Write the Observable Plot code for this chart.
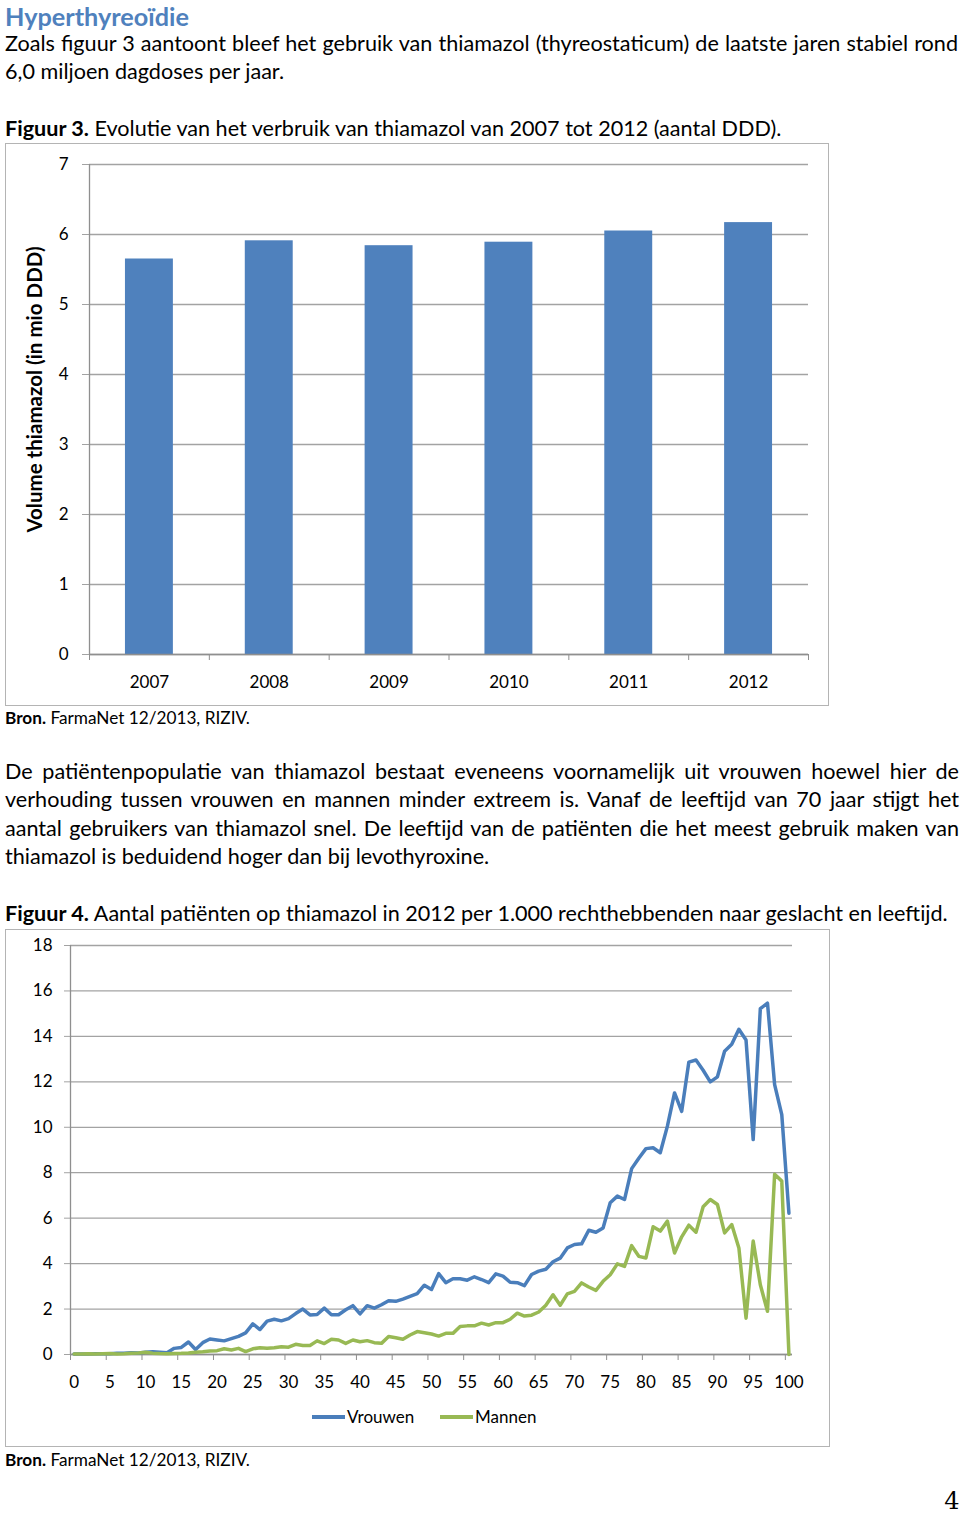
<!DOCTYPE html>
<html>
<head>
<meta charset="utf-8">
<script src="https://cdn.jsdelivr.net/npm/d3@7"></script>
<script src="https://cdn.jsdelivr.net/npm/@observablehq/plot@0.6"></script>
<style>
  body { margin: 0; background: #fff; }
  #page { position: relative; width: 960px; height: 1515px; overflow: hidden; background: #fff; }
  #overlay { position: absolute; left: 0; top: 0; pointer-events: none; }
  .chart { position: absolute; }
  .box { position: absolute; border: 1px solid #b4b4b4; box-sizing: border-box; pointer-events: none; }
  text { white-space: pre; }
</style>
</head>
<body>
<div id="page">
  <div class="chart" id="bar" style="left:5px;top:143px;"></div>
  <div class="box" style="left:5px;top:143px;width:824px;height:563px;"></div>
  <div class="chart" id="line" style="left:5px;top:929px;"></div>
  <div class="box" style="left:5px;top:929px;width:825px;height:518px;"></div>
  <svg id="overlay" width="960" height="1515"></svg>
</div>
<script>
// ---------- Data: Figuur 3 ----------
const years = ["2007", "2008", "2009", "2010", "2011", "2012"];
const volumes = [5.65, 5.91, 5.84, 5.89, 6.05, 6.17];
const barYTicks = [0, 1, 2, 3, 4, 5, 6, 7];

// ---------- Data: Figuur 4 ----------
const ages = [0,1,2,3,4,5,6,7,8,9,10,11,12,13,14,15,16,17,18,19,20,
  21,22,23,24,25,26,27,28,29,30,31,32,33,34,35,36,37,38,39,40,
  41,42,43,44,45,46,47,48,49,50,51,52,53,54,55,56,57,58,59,60,
  61,62,63,64,65,66,67,68,69,70,71,72,73,74,75,76,77,78,79,80,
  81,82,83,84,85,86,87,88,89,90,91,92,93,94,95,96,97,98,99,100];
const vrouwen = [0.02,0.02,0.02,0.03,0.03,0.03,0.05,0.06,0.08,0.07,0.10,
  0.12,0.10,0.08,0.27,0.31,0.55,0.22,0.52,0.68,0.64,
  0.60,0.70,0.80,0.95,1.35,1.10,1.47,1.55,1.48,1.58,
  1.80,2.00,1.74,1.76,2.04,1.75,1.75,1.97,2.15,1.79,
  2.15,2.04,2.19,2.37,2.34,2.44,2.56,2.68,3.05,2.86,
  3.56,3.16,3.33,3.33,3.27,3.42,3.30,3.16,3.55,3.45,
  3.18,3.16,3.03,3.52,3.67,3.75,4.08,4.24,4.69,4.84,
  4.87,5.47,5.38,5.57,6.68,6.97,6.82,8.18,8.64,9.06,
  9.10,8.88,10.05,11.51,10.70,12.87,12.96,12.51,12.00,12.22,
  13.35,13.65,14.31,13.84,9.46,15.22,15.46,11.88,10.56,6.22];
const mannen = [0.02,0.02,0.03,0.02,0.03,0.04,0.02,0.03,0.05,0.07,0.10,
  0.06,0.04,0.03,0.04,0.05,0.07,0.10,0.12,0.15,0.17,
  0.25,0.20,0.27,0.13,0.25,0.30,0.28,0.30,0.34,0.32,
  0.45,0.40,0.40,0.60,0.48,0.67,0.64,0.49,0.64,0.56,
  0.61,0.52,0.49,0.79,0.74,0.67,0.86,1.01,0.96,0.90,
  0.81,0.93,0.93,1.23,1.26,1.26,1.38,1.30,1.40,1.40,
  1.55,1.82,1.69,1.73,1.87,2.17,2.63,2.17,2.67,2.78,
  3.15,2.97,2.82,3.22,3.51,3.99,3.88,4.79,4.32,4.25,
  5.62,5.43,5.87,4.47,5.18,5.69,5.38,6.50,6.82,6.60,
  5.35,5.72,4.69,1.60,4.99,3.07,1.90,7.93,7.63,0.00];
const seriesNames = ["Vrouwen", "Mannen"];
const seriesColors = ["#4A7EBB", "#98B954"];
const lineYTicks = [0, 2, 4, 6, 8, 10, 12, 14, 16, 18];
const ageLabelTicks = [0,5,10,15,20,25,30,35,40,45,50,55,60,65,70,75,80,85,90,95,100];

const FONT = "Lato, 'Open Sans', sans-serif";
const GRID = "#a3a3a3";
const AXIS = "#8f8f8f";

// ---------- Figuur 3: bar chart ----------
const barData = years.map((year, i) => ({year, i, value: volumes[i]}));
const barChart = Plot.plot({
  width: 824, height: 562,
  marginLeft: 84, marginRight: 21, marginTop: 21, marginBottom: 51,
  style: {background: "transparent", fontFamily: FONT, fontSize: "17px", color: "#000"},
  x: {domain: [-0.5, years.length - 0.5], axis: null},
  y: {domain: [0, 7], axis: null},
  marks: [
    Plot.gridY(barYTicks, {stroke: GRID, strokeOpacity: 1, strokeWidth: 1.3}),
    Plot.axisY(barYTicks, {tickSize: 7, tickPadding: 14, stroke: GRID, fill: "#000", fontSize: 17, tickFormat: d => String(d), label: null}),
    Plot.rectY(barData, {x1: d => d.i - 0.2, x2: d => d.i + 0.2, y: "value", fill: "#4F81BD"}),
    Plot.ruleY([0], {stroke: AXIS, strokeWidth: 1.3}),
    Plot.ruleX([-0.5], {stroke: AXIS, strokeWidth: 1.3}),
    Plot.axisX(d3.range(-0.5, years.length, 1), {tickSize: 6, stroke: AXIS, tickFormat: () => "", label: null}),
    Plot.axisX(barData.map(d => d.i), {tickSize: 0, tickPadding: 21, tickFormat: i => years[i], fill: "#000", fontSize: 17, label: null}),
    Plot.text(["Volume thiamazol (in mio DDD)"], {frameAnchor: "left", textAnchor: "middle", lineAnchor: "middle", rotate: -90, dx: -54, dy: -20, fontWeight: "bold", fontSize: 20.5, fill: "#000"})
  ]
});
document.getElementById("bar").appendChild(barChart);

// ---------- Figuur 4: line chart ----------
const lineData = [];
ages.forEach((age, i) => lineData.push({age, value: vrouwen[i], sex: "Vrouwen"}));
ages.forEach((age, i) => lineData.push({age, value: mannen[i], sex: "Mannen"}));
const lineChart = Plot.plot({
  width: 824, height: 517,
  marginLeft: 65, marginRight: 37, marginTop: 16, marginBottom: 92,
  style: {background: "transparent", fontFamily: FONT, fontSize: "17px", color: "#000"},
  x: {domain: [-0.5, 100.5], axis: null},
  y: {domain: [0, 18], axis: null},
  color: {domain: seriesNames, range: seriesColors},
  marks: [
    Plot.gridY(lineYTicks, {stroke: GRID, strokeOpacity: 1, strokeWidth: 1.3}),
    Plot.axisY(lineYTicks, {tickSize: 6, tickPadding: 12, stroke: GRID, fill: "#000", fontSize: 17, tickFormat: d => String(d), label: null}),
    Plot.ruleY([0], {stroke: AXIS, strokeWidth: 1.3}),
    Plot.ruleX([-0.5], {stroke: AXIS, strokeWidth: 1.3}),
    Plot.axisX(d3.range(-0.5, 100, 5), {tickSize: 6, stroke: AXIS, tickFormat: () => "", label: null}),
    Plot.axisX(ageLabelTicks, {tickSize: 0, tickPadding: 21, fill: "#000", fontSize: 17, tickFormat: d => String(d), label: null}),
    Plot.lineY(lineData, {x: "age", y: "value", z: "sex", stroke: "sex", strokeWidth: 3.5, strokeLinejoin: "round"})
  ]
});
document.getElementById("line").appendChild(lineChart);

// ---------- Document text (overlay) ----------
const NS = "http://www.w3.org/2000/svg";
const overlay = document.getElementById("overlay");
function addText(parts, opts) {
  const t = document.createElementNS(NS, "text");
  t.setAttribute("x", opts.x ?? 5);
  t.setAttribute("y", opts.y);
  t.setAttribute("font-family", opts.family || FONT);
  t.setAttribute("font-size", opts.size);
  t.setAttribute("fill", opts.fill || "#000");
  if (opts.weight) t.setAttribute("font-weight", opts.weight);
  if (opts.anchor) t.setAttribute("text-anchor", opts.anchor);
  for (const p of parts) {
    const ts = document.createElementNS(NS, "tspan");
    if (typeof p === "string") ts.textContent = p;
    else { ts.textContent = p.t; if (p.b) ts.setAttribute("font-weight", "bold"); }
    t.appendChild(ts);
  }
  overlay.appendChild(t);
  return t;
}
function fitSize(t, size, target) {
  const w = t.getComputedTextLength();
  const s = size * target / w;
  t.setAttribute("font-size", s);
  return s;
}
function justify(t, target) {
  const w = t.getComputedTextLength();
  const n = (t.textContent.match(/ /g) || []).length;
  if (n > 0) t.style.wordSpacing = ((target - w) / n) + "px";
}

// heading
const h = addText(["Hyperthyreoïdie"], {y: 26, size: 22, weight: "bold", fill: "#4F81BD"});
fitSize(h, 22, 184);

// body size from the caption of figure 4 (single natural line)
const cap4 = addText([{t: "Figuur 4.", b: true}, " Aantal patiënten op thiamazol in 2012 per 1.000 rechthebbenden naar geslacht en leeftijd."], {y: 921, size: 20});
const BODY = fitSize(cap4, 20, 943);

const l1 = addText(["Zoals figuur 3 aantoont bleef het gebruik van thiamazol (thyreostaticum) de laatste jaren stabiel rond"], {y: 51, size: BODY});
justify(l1, 953);
addText(["6,0 miljoen dagdoses per jaar."], {y: 79, size: BODY});
addText([{t: "Figuur 3.", b: true}, " Evolutie van het verbruik van thiamazol van 2007 tot 2012 (aantal DDD)."], {y: 136, size: BODY});

const p2 = [
  "De patiëntenpopulatie van thiamazol bestaat eveneens voornamelijk uit vrouwen hoewel hier de",
  "verhouding tussen vrouwen en mannen minder extreem is. Vanaf de leeftijd van 70 jaar stijgt het",
  "aantal gebruikers van thiamazol snel. De leeftijd van de patiënten die het meest gebruik maken van"
];
const p2y = [779, 807, 836];
p2.forEach((s, i) => { const t = addText([s], {y: p2y[i], size: BODY}); justify(t, 954); });
addText(["thiamazol is beduidend hoger dan bij levothyroxine."], {y: 864, size: BODY});

// sources
const b1 = addText([{t: "Bron.", b: true}, " FarmaNet 12/2013, RIZIV."], {y: 724, size: 16});
const BS = fitSize(b1, 16, 245);
addText([{t: "Bron.", b: true}, " FarmaNet 12/2013, RIZIV."], {y: 1466, size: BS});

// legend for figure 4
function legendItem(x, color, label) {
  const r = document.createElementNS(NS, "rect");
  r.setAttribute("x", x); r.setAttribute("y", 1415); r.setAttribute("width", 33); r.setAttribute("height", 4);
  r.setAttribute("fill", color);
  overlay.appendChild(r);
  addText([label], {x: x + 35, y: 1423, size: 17});
}
legendItem(312, seriesColors[0], seriesNames[0]);
legendItem(440, seriesColors[1], seriesNames[1]);

// page number
addText(["4"], {x: 952, y: 1509, size: 24, family: "'DejaVu Serif', 'Liberation Serif', serif", anchor: "middle"});
</script>
</body>
</html>
